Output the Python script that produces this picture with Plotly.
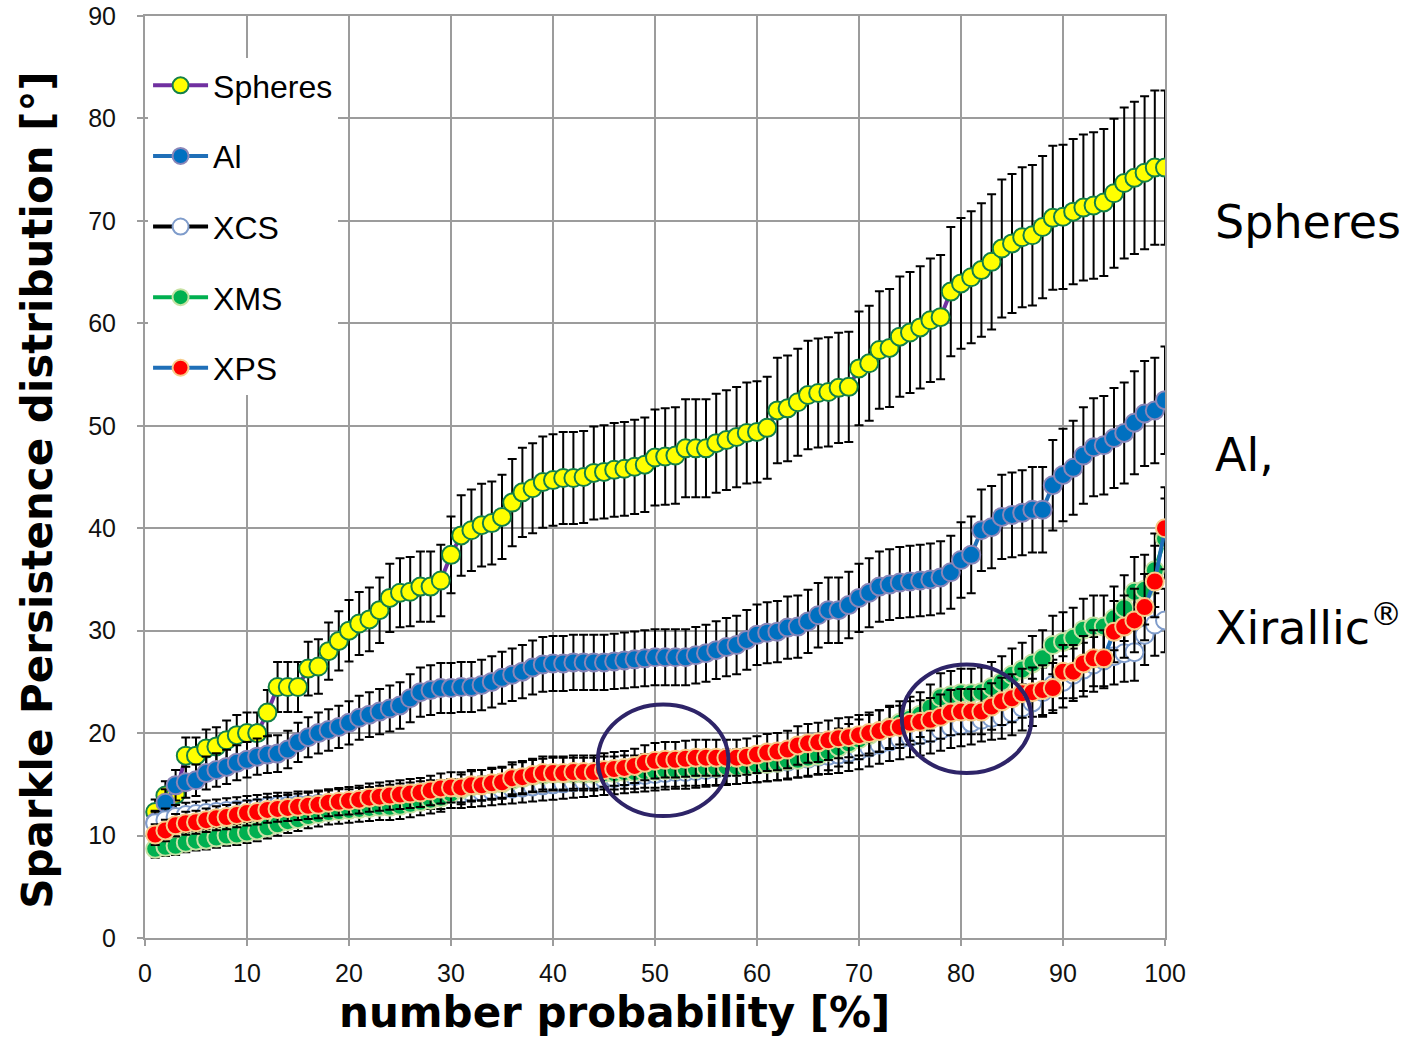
import plotly.graph_objects as go

# number probability [%]
prob = list(range(1, 101))

spheres = [12.3, 13.9, 14.0, 17.8, 17.8, 18.5, 18.7, 19.3, 19.8, 20.0,
           20.0, 22.0, 24.5, 24.5, 24.5, 26.3, 26.5, 28.0, 29.0, 30.0,
           30.7, 31.1, 32.0, 33.2, 33.7, 33.8, 34.3, 34.3, 34.9, 37.4,
           39.3, 39.8, 40.3, 40.5, 41.1, 42.5, 43.5, 43.9, 44.5, 44.7,
           44.9, 44.9, 45.0, 45.4, 45.5, 45.7, 45.8, 46.0, 46.2, 46.9,
           47.0, 47.1, 47.8, 47.8, 47.8, 48.3, 48.6, 48.9, 49.3, 49.4,
           49.8, 51.5, 51.7, 52.3, 53.0, 53.2, 53.3, 53.7, 53.8, 55.6,
           56.1, 57.4, 57.6, 58.7, 59.1, 59.6, 60.3, 60.6, 63.1, 63.9,
           64.5, 65.2, 66.0, 67.3, 67.8, 68.4, 68.6, 69.4, 70.3, 70.4,
           70.9, 71.3, 71.5, 71.8, 72.7, 73.7, 74.2, 74.7, 75.2, 75.2]

al = [11.3, 13.2, 14.9, 15.2, 15.4, 16.1, 16.4, 16.7, 17.1, 17.4,
      17.7, 17.9, 18.0, 18.4, 19.1, 19.6, 20.0, 20.3, 20.6, 21.0,
      21.5, 21.8, 22.1, 22.4, 22.7, 23.4, 24.0, 24.2, 24.4, 24.4,
      24.5, 24.5, 24.7, 25.0, 25.4, 25.7, 26.0, 26.4, 26.7, 26.8,
      26.8, 26.9, 26.9, 26.9, 26.9, 27.0, 27.1, 27.2, 27.3, 27.4,
      27.4, 27.4, 27.4, 27.6, 27.8, 28.1, 28.4, 28.6, 29.1, 29.6,
      29.8, 29.9, 30.3, 30.4, 30.9, 31.5, 32.0, 32.0, 32.5, 33.2,
      33.7, 34.3, 34.5, 34.7, 34.8, 34.9, 35.0, 35.2, 35.7, 36.9,
      37.4, 39.8, 40.1, 41.1, 41.3, 41.5, 41.8, 41.8, 44.2, 45.2,
      45.9, 47.1, 47.9, 48.1, 48.8, 49.3, 50.3, 51.2, 51.5, 52.5]

xcs = [11.2, 11.5, 11.8, 12.0, 12.1, 12.2, 12.3, 12.4, 12.5, 12.6,
       12.7, 12.8, 12.9, 12.9, 13.0, 13.0, 13.1, 13.1, 13.2, 13.2,
       13.3, 13.4, 13.5, 13.6, 13.7, 13.8, 13.9, 14.0, 14.0, 14.1,
       14.1, 14.2, 14.3, 14.4, 14.5, 14.6, 14.7, 14.8, 14.9, 15.0,
       15.1, 15.2, 15.3, 15.4, 15.5, 15.6, 15.7, 15.8, 15.9, 16.0,
       16.1, 16.2, 16.2, 16.3, 16.4, 16.5, 16.6, 16.7, 16.8, 16.9,
       17.0, 17.1, 17.2, 17.4, 17.5, 17.7, 17.8, 17.9, 18.1, 18.3,
       18.6, 18.9, 19.2, 19.4, 19.6, 19.8, 20.0, 20.3, 20.6, 20.8,
       21.0, 21.3, 21.5, 21.6, 22.0, 22.5, 23.0, 24.0, 24.7, 25.0,
       25.7, 26.2, 26.7, 27.1, 27.5, 27.8, 27.9, 29.6, 30.6, 31.0]

xms = [8.7, 8.9, 9.0, 9.3, 9.5, 9.6, 9.8, 10.0, 10.1, 10.3,
       10.5, 10.8, 11.1, 11.4, 11.6, 11.9, 12.1, 12.3, 12.4, 12.5,
       12.6, 12.7, 12.8, 12.8, 12.9, 13.1, 13.3, 13.5, 13.7, 14.1,
       14.5, 14.8, 14.9, 15.0, 15.1, 15.4, 15.6, 15.8, 15.9, 16.0,
       16.0, 16.0, 16.0, 16.0, 16.1, 16.1, 16.2, 16.2, 16.3, 16.3,
       16.4, 16.4, 16.5, 16.5, 16.6, 16.6, 16.7, 16.7, 16.8, 16.9,
       17.0, 17.1, 17.3, 17.4, 17.6, 17.8, 18.2, 18.6, 19.0, 19.4,
       19.8, 20.2, 20.6, 21.0, 21.4, 21.8, 22.5, 23.5, 23.7, 23.9,
       23.9, 24.0, 24.5, 25.0, 25.7, 26.2, 26.8, 27.3, 28.6, 28.9,
       29.3, 30.1, 30.4, 30.4, 31.2, 32.2, 33.8, 34.0, 35.9, 39.0]

xps = [10.1, 10.5, 11.0, 11.2, 11.3, 11.5, 11.7, 11.8, 12.0, 12.2,
       12.3, 12.5, 12.6, 12.7, 12.8, 12.9, 13.0, 13.2, 13.3, 13.4,
       13.5, 13.7, 13.8, 13.9, 14.0, 14.1, 14.2, 14.4, 14.6, 14.7,
       14.7, 14.9, 14.9, 15.1, 15.2, 15.6, 15.7, 15.9, 16.1, 16.1,
       16.1, 16.2, 16.2, 16.2, 16.4, 16.5, 16.6, 16.8, 17.1, 17.3,
       17.4, 17.4, 17.5, 17.6, 17.6, 17.6, 17.6, 17.6, 17.7, 17.9,
       18.1, 18.2, 18.4, 18.8, 19.0, 19.1, 19.3, 19.5, 19.6, 19.8,
       20.0, 20.2, 20.5, 20.6, 21.0, 21.1, 21.3, 21.6, 22.0, 22.1,
       22.1, 22.1, 22.6, 23.1, 23.4, 23.9, 24.0, 24.2, 24.4, 26.0,
       26.0, 26.8, 27.3, 27.3, 29.9, 30.4, 31.0, 32.3, 34.8, 40.0]

series_names = ["Spheres", "Al", "XCS", "XMS", "XPS"]
series_values = [spheres, al, xcs, xms, xps]
line_colors = ["#7030A0", "#1F6FB8", "#000000", "#00B050", "#1F6FB8"]
fill_colors = ["#FFFF00", "#0070C0", "#FFFFFF", "#00B050", "#FF0000"]
edge_colors = ["#138049", "#8A86B8", "#7F9CCB", "#C6E2A4", "#F7CC8A"]

x_ticks = [0, 10, 20, 30, 40, 50, 60, 70, 80, 90, 100]
y_ticks = [0, 10, 20, 30, 40, 50, 60, 70, 80, 90]

fig = go.Figure()
for name, vals, lc, fc, ec in zip(series_names, series_values, line_colors, fill_colors, edge_colors):
    fig.add_trace(go.Scatter(
        x=prob, y=vals, name=name, legendgroup=name,
        mode="lines+markers",
        line=dict(color=lc, width=4),
        marker=dict(size=18, color=fc, line=dict(color=ec, width=2), maxdisplayed=0),
        error_y=dict(type="percent", value=10, color="black", thickness=2, width=4.5),
    ))

grid_col = "#9C9C9C"
fig.update_xaxes(range=[0, 100], tickvals=x_ticks, showgrid=True, gridcolor=grid_col, gridwidth=2,
                 zeroline=False, showline=True, linecolor=grid_col, linewidth=2, mirror=True,
                 ticks="outside", ticklen=6, tickcolor=grid_col, tickwidth=2, automargin=False,
                 tickfont=dict(family="Liberation Sans, Arial", size=25, color="#111111"),
                 ticklabelstandoff=6)
fig.update_yaxes(range=[0, 90], tickvals=y_ticks, showgrid=True, gridcolor=grid_col, gridwidth=2,
                 zeroline=False, showline=True, linecolor=grid_col, linewidth=2, mirror=True,
                 ticks="outside", ticklen=6, tickcolor=grid_col, tickwidth=2, automargin=False,
                 tickfont=dict(family="Liberation Sans, Arial", size=25, color="#111111"),
                 ticklabelstandoff=16)

circle_col = "#2E2468"
fig.add_shape(type="circle", xref="x", yref="y", x0=44.4, x1=57.2, y0=11.9, y1=22.8,
              line=dict(color=circle_col, width=4))
fig.add_shape(type="circle", xref="x", yref="y", x0=74.2, x1=86.9, y0=16.1, y1=26.7,
              line=dict(color=circle_col, width=4))

title_font = dict(family="DejaVu Sans, Verdana", size=42, color="black")
fig.add_annotation(text="<b>number probability [%]</b>", xref="paper", yref="paper",
                   x=0.46, y=-0.0805, xanchor="center", yanchor="middle", showarrow=False,
                   font=title_font)
fig.add_annotation(text="<b>Sparkle Persistence distribution [°]</b>", xref="paper", yref="paper",
                   x=-0.105, y=0.486, xanchor="center", yanchor="middle", showarrow=False,
                   textangle=-90, font=title_font)

side_font = dict(family="DejaVu Sans, Verdana", size=46, color="black")
for txt, yy in [("Spheres", 0.7766), ("Al,", 0.524), ("Xirallic<sup>®</sup>", 0.3395)]:
    fig.add_annotation(text=txt, xref="paper", yref="paper", x=1.047, y=yy,
                       xanchor="left", yanchor="middle", showarrow=False, font=side_font)

fig.update_layout(
    width=1409, height=1038,
    margin=dict(l=145, r=244, t=16, b=100),
    paper_bgcolor="white", plot_bgcolor="white",
    legend=dict(x=0.003, y=0.9544, xanchor="left", yanchor="top", bgcolor="white",
                font=dict(family="Liberation Sans, Arial", size=32, color="black"),
                tracegroupgap=26, itemwidth=55, itemsizing="trace"),
    showlegend=True,
)

fig.write_html("out.html")
